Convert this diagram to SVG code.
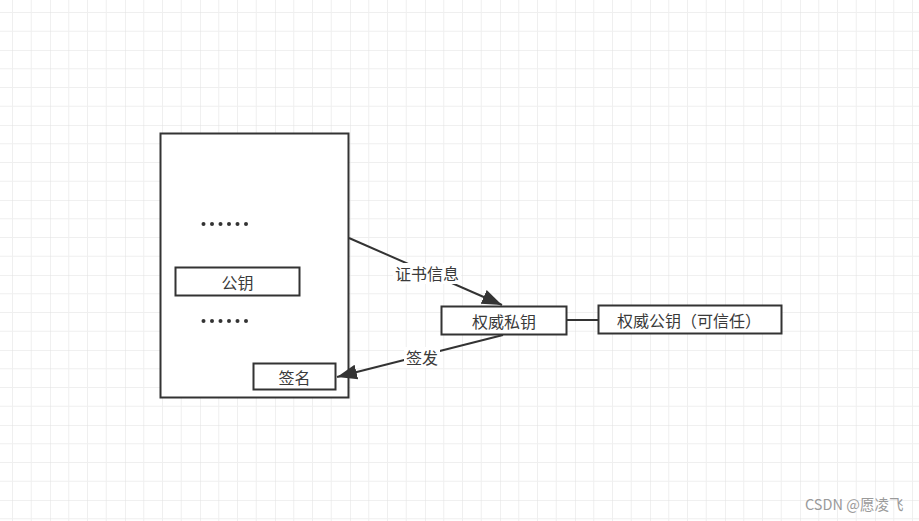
<svg xmlns="http://www.w3.org/2000/svg" width="919" height="521" viewBox="0 0 919 521">
  <defs>
    <pattern id="grid" patternUnits="userSpaceOnUse" x="50" y="50" width="75" height="75">
      <rect x="0" y="0" width="75" height="75" fill="#ffffff"/>
      <rect x="18.25" y="0" width="1" height="75" fill="#efefef"/>
      <rect x="37" y="0" width="1" height="75" fill="#efefef"/>
      <rect x="55.75" y="0" width="1" height="75" fill="#efefef"/>
      <rect x="0" y="18.25" width="75" height="1" fill="#efefef"/>
      <rect x="0" y="37" width="75" height="1" fill="#efefef"/>
      <rect x="0" y="55.75" width="75" height="1" fill="#efefef"/>
      <rect x="-0.5" y="0" width="1" height="75" fill="#e2e2e2"/>
      <rect x="0" y="-0.5" width="75" height="1" fill="#e2e2e2"/>
    </pattern>
    <marker id="arrow" markerUnits="userSpaceOnUse" markerWidth="22" markerHeight="22" viewBox="0 0 22 22" refX="20" refY="11" orient="auto">
      <path d="M0,3.5 L20,11 L0,18.5 Z" fill="#333333"/>
    </marker>
  </defs>
  <style>
    .box { fill: #ffffff; stroke: #333333; stroke-width: 2; }
    .lbl { font-family: "Noto Sans CJK SC", "Microsoft YaHei", sans-serif; font-size: 16px; fill: #3a3a3a; text-anchor: middle; dominant-baseline: central; }
    .edge { stroke: #333333; stroke-width: 2; fill: none; }
    .dot { fill: #333333; }
  </style>
  <rect x="0" y="0" width="919" height="521" fill="url(#grid)"/>

  <g id="cert">
    <rect class="box" x="160.5" y="133.5" width="188" height="264"/>
    <g id="dots1">
      <circle class="dot" cx="203.5" cy="224" r="2"/>
      <circle class="dot" cx="212" cy="224" r="2"/>
      <circle class="dot" cx="220.5" cy="224" r="2"/>
      <circle class="dot" cx="229" cy="224" r="2"/>
      <circle class="dot" cx="237.5" cy="224" r="2"/>
      <circle class="dot" cx="246" cy="224" r="2"/>
    </g>
    <g id="dots2">
      <circle class="dot" cx="203.5" cy="321" r="2"/>
      <circle class="dot" cx="212" cy="321" r="2"/>
      <circle class="dot" cx="220.5" cy="321" r="2"/>
      <circle class="dot" cx="229" cy="321" r="2"/>
      <circle class="dot" cx="237.5" cy="321" r="2"/>
      <circle class="dot" cx="246" cy="321" r="2"/>
    </g>
  </g>
  <g id="pubkey">
    <rect class="box" x="175.5" y="267.5" width="124" height="28"/>
    <text class="lbl" x="237.5" y="281.5">公钥</text>
  </g>
  <g id="sign">
    <rect class="box" x="253.5" y="363.5" width="82" height="26"/>
    <text class="lbl" x="294.5" y="376.5">签名</text>
  </g>
  <g id="privkey">
    <rect class="box" x="441.5" y="306.5" width="125" height="28"/>
    <text class="lbl" x="504" y="320.5">权威私钥</text>
  </g>
  <g id="trustpub">
    <rect class="box" x="598.5" y="305.5" width="183" height="28"/>
    <text class="lbl" x="689" y="319.5">权威公钥（可信任）</text>
  </g>

  <g id="connectors">
    <path class="edge" d="M349,238 L502,305" marker-end="url(#arrow)"/>
    <path class="edge" d="M503,335 L337,377" marker-end="url(#arrow)"/>
    <path class="edge" d="M567,320 L598,320"/>
    <rect x="393" y="263" width="68" height="21" fill="#ffffff"/>
    <text class="lbl" x="427" y="273">证书信息</text>
    <rect x="404" y="347" width="36" height="21" fill="#ffffff"/>
    <text class="lbl" x="422" y="357">签发</text>
  </g>

  <text x="805" y="510" font-family="'Noto Sans CJK SC', 'Microsoft YaHei', sans-serif" font-size="14.5" fill="#9a9a9a">CSDN @愿凌飞</text>
</svg>
